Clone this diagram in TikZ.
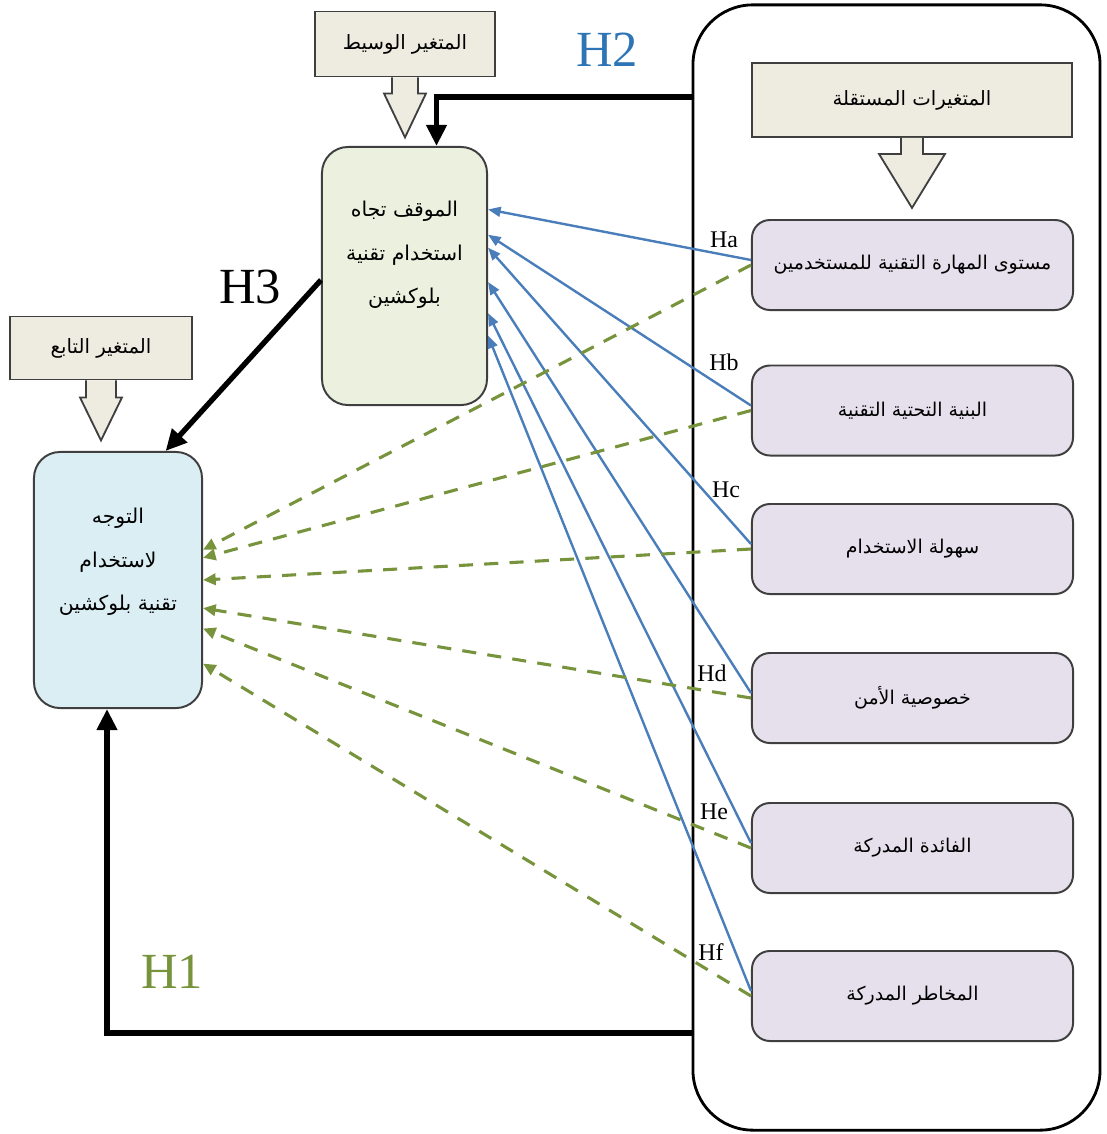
\documentclass[tikz,border=0pt]{standalone}
\usepackage{fontspec}
\setmainfont{Liberation Serif}
\newfontfamily\arabicfont[Script=Arabic]{DejaVu Sans}
\TeXXeTstate=1
\usepackage{tikz}
\usetikzlibrary{positioning,calc,arrows.meta}

\definecolor{tanfill}{HTML}{EEECE1}
\definecolor{medfill}{HTML}{EBF1DE}
\definecolor{depfill}{HTML}{DAEEF3}
\definecolor{ivfill}{HTML}{E5E0EC}
\definecolor{boxline}{HTML}{3F3F3F}
\definecolor{linkblue}{HTML}{4A7EBB}
\definecolor{linkgreen}{HTML}{77933C}
\definecolor{htwoblue}{HTML}{2E75B6}

\newcommand{\artxt}[1]{\beginR #1\endR}
% block arrow under a callout box: node, stem half, head half, stem length, head length
\newcommand{\callarrow}[5]{%
  \draw[callout] ($(#1.south)+(-#2,0)$) -- ++(0,#4) -- ++({#2-#3},0)
    -- ($(#1.south)+(0,{#4+#5})$) -- ($(#1.south)+(#3,#4)$) -- ++({#2-#3},0)
    -- ($(#1.south)+(#2,0)$);}

\tikzset{
  callbox/.style={draw=boxline, fill=tanfill, line width=1.3pt, inner sep=0pt,
    font=\arabicfont\fontsize{14}{17}\selectfont},
  callout/.style={draw=boxline, fill=tanfill, line width=1.3pt, line join=miter},
  ivbox/.style={draw=boxline, fill=ivfill, line width=1.4pt, rounded corners=0.45cm,
    minimum width=8.025cm, minimum height=2.25cm, inner sep=0pt,
    font=\arabicfont\fontsize{13.5}{17}\selectfont},
  midbox/.style={draw=boxline, line width=1.4pt, rounded corners=0.65cm},
  boxtext/.style={align=center, inner sep=0pt, font=\arabicfont\fontsize{14.5}{31}\selectfont},
  bigarrow/.style={line width=3.8pt, -{Triangle[length=15pt,width=14pt]}},
  bluelink/.style={draw=linkblue, line width=1.7pt, -{Triangle[length=9pt,width=7pt]}},
  greenlink/.style={draw=linkgreen, line width=2.2pt, dash pattern=on 10pt off 8pt,
    -{Triangle[length=9pt,width=8pt]}},
  hlab/.style={inner sep=0pt, font=\fontsize{17}{17}\selectfont},
  hbig/.style={inner sep=0pt, font=\fontsize{36}{36}\selectfont}
}

\begin{document}
\begin{tikzpicture}[x=0.025cm, y=-0.025cm]
  \useasboundingbox (0,0) rectangle (1107,1134);

  % independent variables frame
  \node[draw, line width=2pt, rounded corners=1.5cm, fill=white,
    minimum width=10.175cm, minimum height=28.125cm] (indep) at (896.5,567.5) {};

  % callouts
  \node[callbox, minimum width=8cm, minimum height=1.85cm] (callIV) at (912,100)
    {\artxt{المتغيرات المستقلة}};
  \callarrow{callIV}{11}{33}{16}{54}
  \node[callbox, minimum width=4.5cm, minimum height=1.625cm] (callMed) at (405,44)
    {\artxt{المتغير الوسيط}};
  \callarrow{callMed}{13}{21}{16}{44}
  \node[callbox, minimum width=4.55cm, minimum height=1.575cm] (callDep) at (101,348)
    {\artxt{المتغير التابع}};
  \callarrow{callDep}{15}{21}{17}{43}

  % mediator and dependent
  \node[midbox, fill=medfill, minimum width=4.125cm, minimum height=6.45cm] (med) at (404.5,276) {};
  \node[boxtext] (medtxt) at (404.5,255)
    {\artxt{الموقف تجاه}\\\artxt{استخدام تقنية}\\\artxt{بلوكشين}};
  \node[midbox, fill=depfill, minimum width=4.2cm, minimum height=6.4cm] (dep) at (118,580) {};
  \node[boxtext] (deptxt) at (118,562)
    {\artxt{التوجه}\\\artxt{لاستخدام}\\\artxt{تقنية بلوكشين}};

  % independent boxes
  \node[ivbox] (iv1) at (912.5,265) {\artxt{مستوى المهارة التقنية للمستخدمين}};
  \node[ivbox] (iv2) at (912.5,410.5) {\artxt{البنية التحتية التقنية}};
  \node[ivbox] (iv3) at (912.5,549) {\artxt{سهولة الاستخدام}};
  \node[ivbox] (iv4) at (912.5,698) {\artxt{خصوصية الأمن}};
  \node[ivbox] (iv5) at (912.5,848) {\artxt{الفائدة المدركة}};
  \node[ivbox] (iv6) at (912.5,996) {\artxt{المخاطر المدركة}};

  % main paths
  \draw[bigarrow] (indep.west |- 0,97) -| ($(med.north)+(32,0)$);
  \draw[bigarrow] ($(med.west)+(0,4)$) -- ($(dep.north west)!0.78!(dep.north east)$);
  \draw[bigarrow] (indep.west |- 0,1033) -| ($(dep.south)+(-11,0)$);

  % links to mediator and dependent
  \foreach \k/\f in {1/0.244,2/0.341,3/0.391,4/0.523,5/0.643,6/0.729}
    \draw[bluelink] ($(iv\k.west)+(0,-5)$) -- ($(med.north east)!\f!(med.south east)$);
  \foreach \k/\f in {1/0.383,2/0.414,3/0.5,4/0.609,5/0.688,6/0.824}
    \draw[greenlink] (iv\k.west) -- ($(dep.north east)!\f!(dep.south east)$);

  % hypotheses
  \node[hbig, text=htwoblue] (h2) at (607,50) {H2};
  \node[hbig] (h3) at (250,287) {H3};
  \node[hbig, text=linkgreen] (h1) at (172,972) {H1};
  \node[hlab] (ha) at (724,240) {Ha};
  \node[hlab] (hb) at (724,362) {Hb};
  \node[hlab] (hc) at (726,490) {Hc};
  \node[hlab] (hd) at (712,673) {Hd};
  \node[hlab] (he) at (714,812) {He};
  \node[hlab] (hf) at (711,952) {Hf};
\end{tikzpicture}
\end{document}
